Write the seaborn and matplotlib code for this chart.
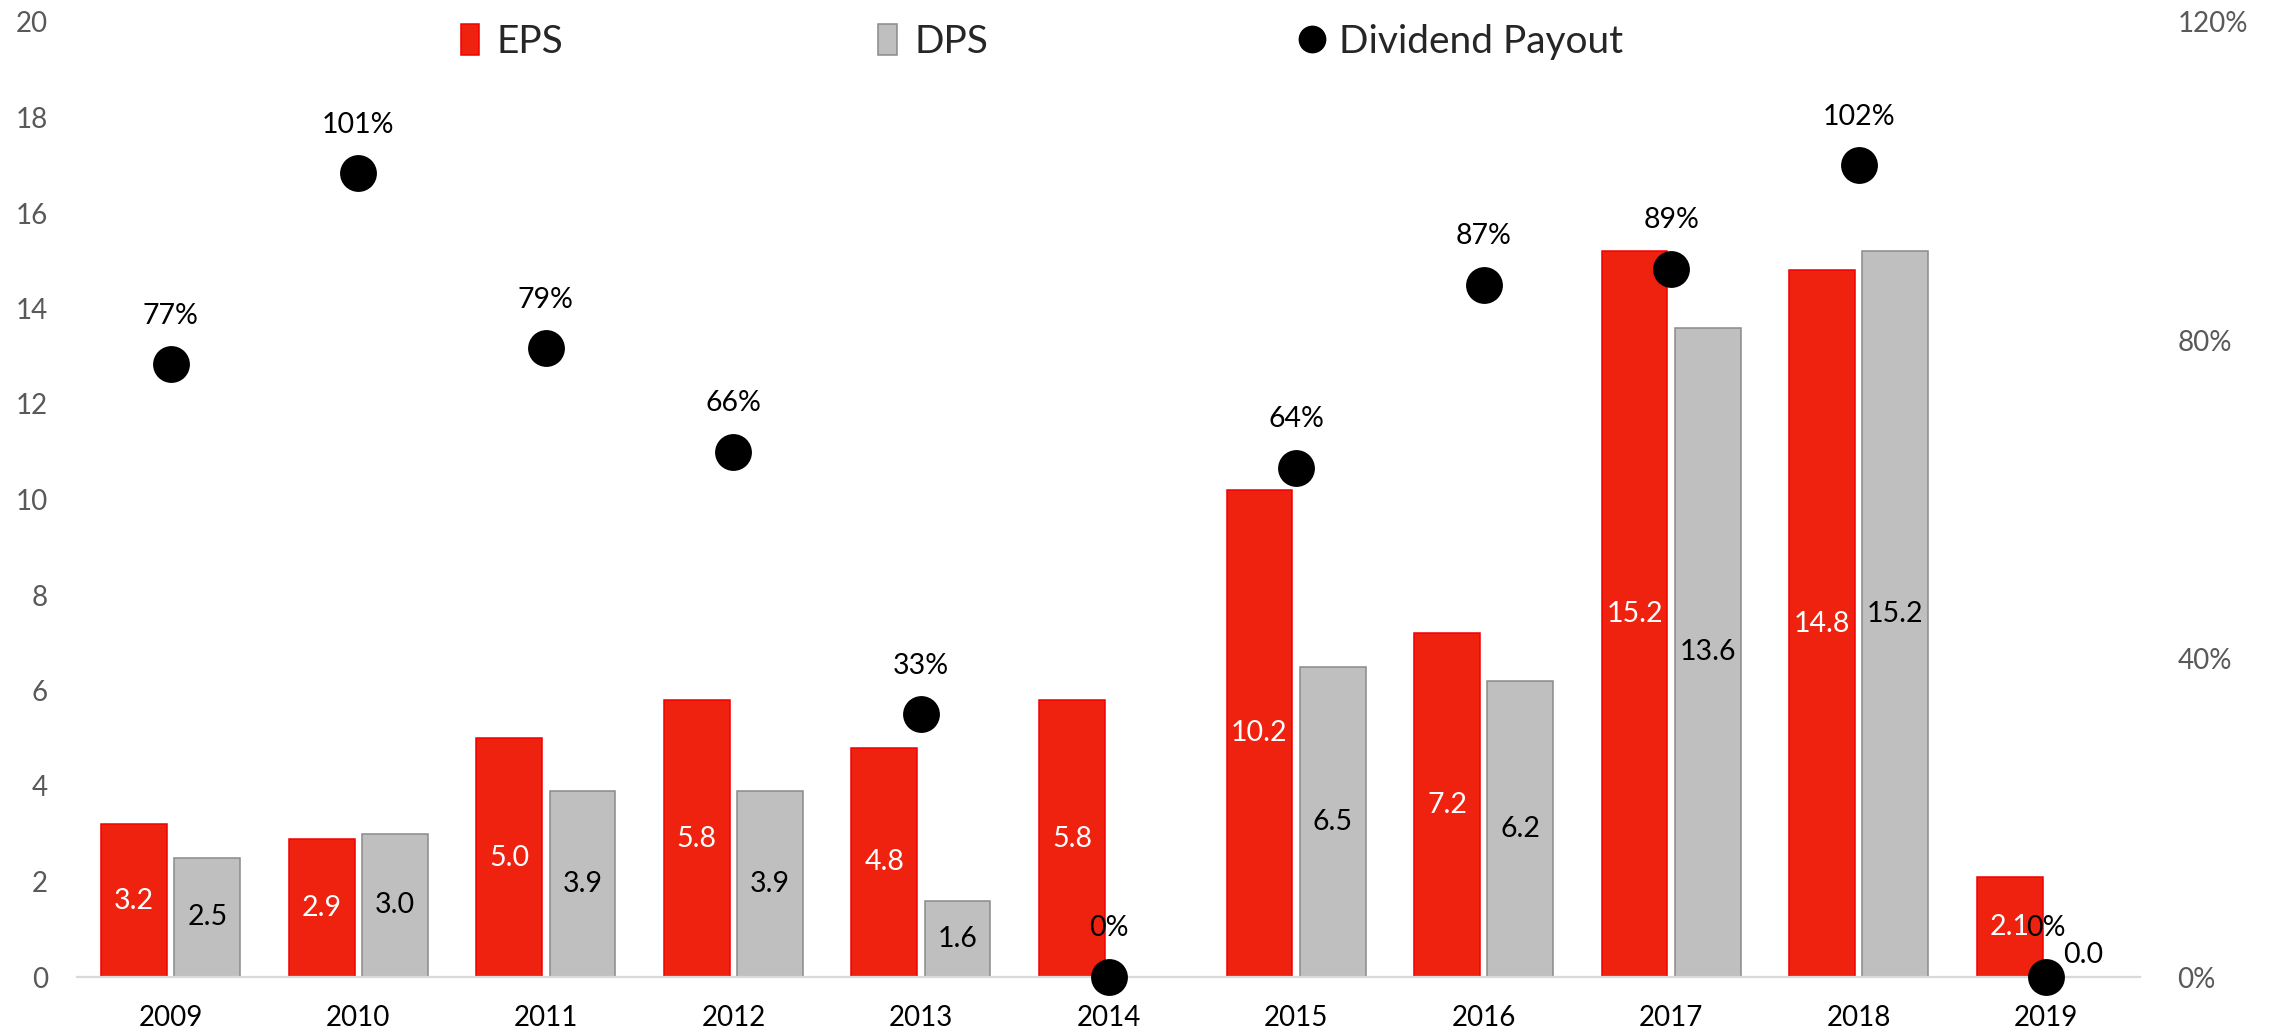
import numpy as np
import pandas as pd
import matplotlib
matplotlib.use("Agg")
import matplotlib.pyplot as plt
from matplotlib.patches import Patch
from matplotlib.lines import Line2D
from matplotlib.ticker import FuncFormatter
import seaborn as sns

# Per-share figures and payout ratio by year
years = ["2009", "2010", "2011", "2012", "2013", "2014", "2015", "2016", "2017", "2018", "2019"]
eps = [3.2, 2.9, 5.0, 5.8, 4.8, 5.8, 10.2, 7.2, 15.2, 14.8, 2.1]
dps = [2.5, 3.0, 3.9, 3.9, 1.6, np.nan, 6.5, 6.2, 13.6, 15.2, 0.0]
payout_pct = [77, 101, 79, 66, 33, 0, 64, 87, 89, 102, 0]

left_ticks = [0, 2, 4, 6, 8, 10, 12, 14, 16, 18, 20]
right_ticks = [0, 0.4, 0.8, 1.2]

RED, RED_EDGE = "#EE220F", "#F20000"
GREY, GREY_EDGE = "#BFBFBF", "#8A8A8A"
TICK_GREY = "#595959"

sns.set_theme(style="white")
plt.rcParams["font.family"] = ["Lato", "DejaVu Sans"]

bars = pd.DataFrame({
    "Year": years * 2,
    "Metric": ["EPS"] * len(years) + ["DPS"] * len(years),
    "Value": eps + dps,
})
payout = pd.DataFrame({"Year": years, "Payout": [p / 100 for p in payout_pct]})

fig = plt.figure(figsize=(22.7, 10.35), dpi=100)
fig.subplots_adjust(left=77 / 2270, right=2140 / 2270, bottom=1 - 977 / 1035, top=1 - 22 / 1035)
ax = fig.add_subplot(111)

sns.barplot(data=bars.dropna(), x="Year", y="Value", hue="Metric", order=years,
            hue_order=["EPS", "DPS"], palette={"EPS": RED, "DPS": GREY},
            saturation=1, width=0.78, gap=0.1, legend=False, ax=ax)

edge_for = [RED_EDGE, GREY_EDGE]
for cont, ec in zip(ax.containers, edge_for):
    for patch in cont:
        patch.set_edgecolor(ec)
        patch.set_linewidth(1.1)

# Value labels centred inside each bar
label_font = 20.5
for cont, values, col in zip(ax.containers, [eps, [v for v in dps if not np.isnan(v)]], ["white", "black"]):
    for patch, v in zip(cont, values):
        xc = patch.get_x() + patch.get_width() / 2
        off = 16 if v == 0 else 0
        ax.annotate(f"{v:.1f}", (xc, v / 2), xytext=(0, off), textcoords="offset points",
                    ha="center", va="center", fontsize=label_font, color=col, zorder=5)

ax.set_ylim(0, 20)
ax.set_yticks(left_ticks)
ax.set_xlabel("")
ax.set_ylabel("")
ax.tick_params(axis="y", length=0, pad=21, labelsize=20, labelcolor=TICK_GREY)
ax.tick_params(axis="x", length=0, pad=20, labelsize=20, labelcolor="black")
for s in ["top", "left", "right"]:
    ax.spines[s].set_visible(False)
ax.spines["bottom"].set_color("#D9D9D9")
ax.spines["bottom"].set_linewidth(1.6)

# Payout ratio on the secondary axis
ax2 = ax.twinx()
sns.pointplot(data=payout, x="Year", y="Payout", order=years, color="black",
              markers="o", linestyle="none", markersize=24.5, errorbar=None, ax=ax2)
for ln in ax2.lines:
    ln.set_clip_on(False)
    ln.set_zorder(6)
for i, p in enumerate(payout_pct):
    ax2.annotate(f"{p}%", (i, p / 100), xytext=(0, 35), textcoords="offset points",
                 ha="center", va="center", fontsize=label_font, color="black", zorder=7)

ax2.set_ylim(0, 1.2)
ax2.set_yticks(right_ticks)
ax2.yaxis.set_major_formatter(FuncFormatter(lambda v, _: f"{v * 100:.0f}%"))
ax2.set_ylabel("")
ax2.set_xlabel("")
ax2.tick_params(axis="y", length=0, pad=27, labelsize=20, labelcolor=TICK_GREY)
for s in ax2.spines.values():
    s.set_visible(False)
ax2.grid(False)
ax.grid(False)
ax.set_xlim(-0.5, 10.5)

handles = [
    Patch(facecolor=RED, edgecolor=RED_EDGE, linewidth=1.1),
    Patch(facecolor=GREY, edgecolor=GREY_EDGE, linewidth=1.1),
    Line2D([], [], linestyle="none", marker="o", color="black", markersize=19),
]
fig.legend(handles, ["EPS", "DPS", "Dividend Payout"], loc="center",
           bbox_to_anchor=(0.459, 0.959), ncol=3, frameon=False, fontsize=28,
           handlelength=0.47, handleheight=0.85, handletextpad=0.45, columnspacing=8.1)

fig.savefig("out.png", dpi=100)
